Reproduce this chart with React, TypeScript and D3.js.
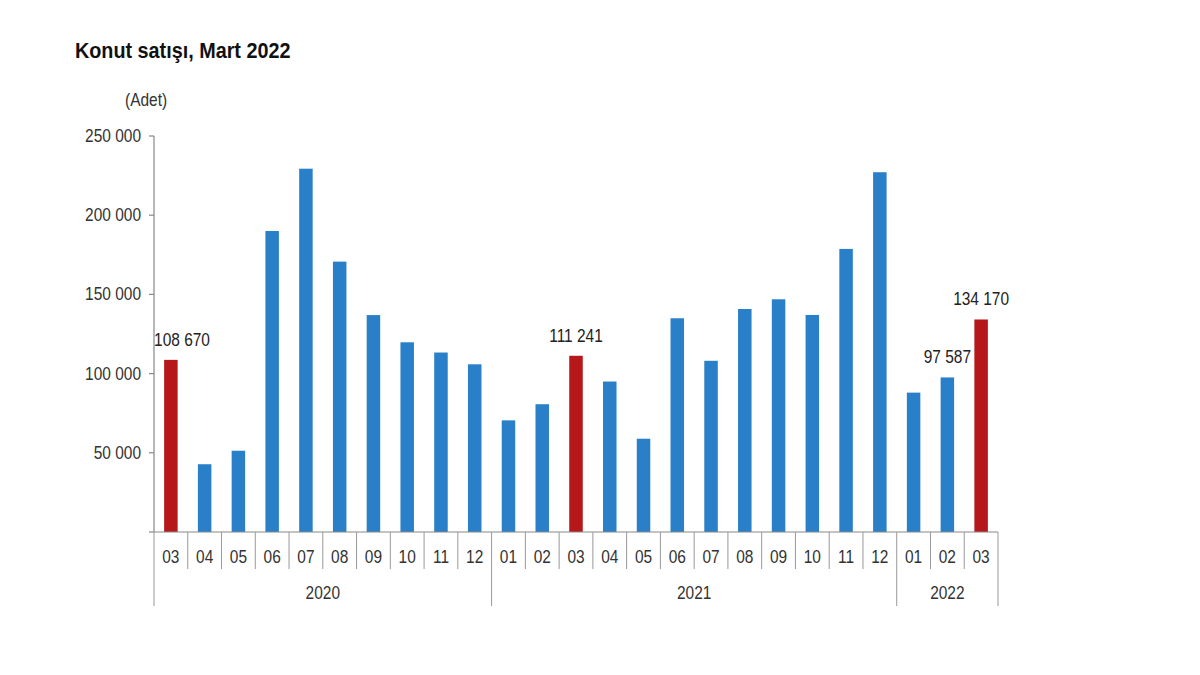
import React from "react";
import * as d3 from "d3";

const months = ["03","04","05","06","07","08","09","10","11","12","01","02","03","04","05","06","07","08","09","10","11","12","01","02","03"];
const years = ["2020","2020","2020","2020","2020","2020","2020","2020","2020","2020","2021","2021","2021","2021","2021","2021","2021","2021","2021","2021","2021","2021","2022","2022","2022"];
const values = [108670, 42783, 51308, 190012, 229357, 170690, 136947, 119770, 113304, 105874, 70484, 80670, 111241, 94992, 58889, 134935, 108089, 140784, 146913, 137026, 178713, 227136, 87988, 97587, 134170];
const highlighted = [true,false,false,false,false,false,false,false,false,false,false,false,true,false,false,false,false,false,false,false,false,false,false,false,true];
const labeled = [true,false,false,false,false,false,false,false,false,false,false,false,true,false,false,false,false,false,false,false,false,false,false,true,true];
const yTicks = [50000, 100000, 150000, 200000, 250000];

const W = 1200, H = 675;
const left = 154, right = 998, top = 136, bottom = 532;
const font = "'Liberation Sans', Arial, sans-serif";
const fmt = (v: number) => d3.format(",")(v).replace(/,/g, " ");
const SX = 0.86;
const sq = (cx: number) => `translate(${cx},0) scale(${SX},1) translate(${-cx},0)`;

export default function App() {
  const idx = values.map((_, i) => String(i));
  const x = d3.scaleBand<string>().domain(idx).range([left, right]).paddingInner(0).paddingOuter(0);
  const y = d3.scaleLinear().domain([0, 250000]).range([bottom, top]);
  const bw = x.bandwidth();
  const barW = bw * 0.4;

  const groups: { year: string; start: number; end: number }[] = [];
  years.forEach((yr, i) => {
    const g = groups[groups.length - 1];
    if (g && g.year === yr) g.end = i;
    else groups.push({ year: yr, start: i, end: i });
  });

  return (
    <svg width={W} height={H} style={{ position: "absolute", left: 0, top: 0, background: "#fff" }}>
      <rect x={0} y={0} width={W} height={H} fill="#fff" />
      <text x={75} y={58} fontFamily={font} fontWeight="bold" fontSize={22} fill="#111" transform="translate(75,0) scale(0.9,1) translate(-75,0)">Konut satışı, Mart 2022</text>
      <text x={125} y={106} fontFamily={font} fontSize={18} fill="#333" transform={`translate(125,0) scale(${SX},1) translate(-125,0)`}>(Adet)</text>

      {/* y axis */}
      <line x1={left} x2={left} y1={top} y2={bottom} stroke="#888" strokeWidth={1.2} />
      {[0, ...yTicks].map((t) => (
        <g key={t}>
          <line x1={left - 5} x2={left} y1={y(t)} y2={y(t)} stroke="#888" strokeWidth={1.2} />
          {t > 0 && (
            <text x={left - 13} y={y(t) + 6} textAnchor="end" fontFamily={font} fontSize={18} fill="#333" transform={sq(left - 13)}>{fmt(t)}</text>
          )}
        </g>
      ))}

      {/* bars */}
      {values.map((v, i) => {
        const cx = (x(String(i)) as number) + bw / 2;
        return (
          <rect key={i} x={cx - barW / 2} y={y(v)} width={barW} height={bottom - y(v)} fill={highlighted[i] ? "#b5171b" : "#2980c8"} />
        );
      })}

      {/* value labels */}
      {values.map((v, i) => {
        if (!labeled[i]) return null;
        const cx = Math.max((x(String(i)) as number) + bw / 2, left + 28);
        return (
          <text key={"l" + i} x={cx} y={y(v) - 14} textAnchor="middle" fontFamily={font} fontSize={18} fill="#222" transform={sq(cx)}>{fmt(v)}</text>
        );
      })}

      {/* x axis */}
      <line x1={left} x2={right} y1={bottom} y2={bottom} stroke="#888" strokeWidth={1.2} />
      {values.map((_, i) => {
        const x0 = x(String(i)) as number;
        const isYearStart = i === 0 || years[i] !== years[i - 1];
        return (
          <line key={"t" + i} x1={x0} x2={x0} y1={bottom} y2={isYearStart ? 606 : 569} stroke="#999" strokeWidth={1} />
        );
      })}
      <line x1={right} x2={right} y1={bottom} y2={606} stroke="#999" strokeWidth={1} />
      {months.map((m, i) => {
        const cx = (x(String(i)) as number) + bw / 2;
        return (
          <text key={"m" + i} x={cx} y={563} textAnchor="middle" fontFamily={font} fontSize={18} fill="#333" transform={sq(cx)}>{m}</text>
        );
      })}
      {groups.map((g) => {
        const cx = ((x(String(g.start)) as number) + (x(String(g.end)) as number) + bw) / 2;
        return (
          <text key={g.year} x={cx} y={599} textAnchor="middle" fontFamily={font} fontSize={18} fill="#333" transform={sq(cx)}>{g.year}</text>
        );
      })}
    </svg>
  );
}
